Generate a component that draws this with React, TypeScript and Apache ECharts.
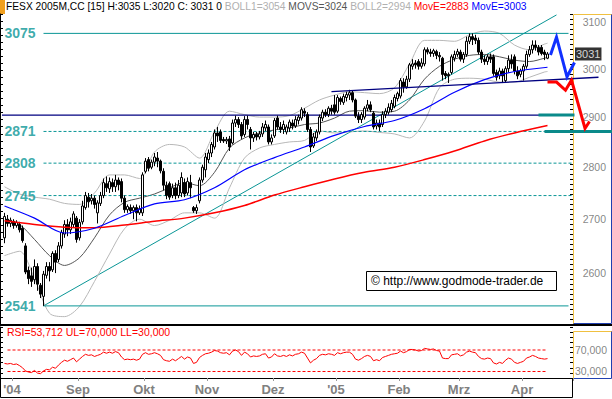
import { useEffect, useRef } from "react";
import * as echarts from "echarts";

// ---------- categories (trading days) ----------
const FIRST_DAY = "2004-07-28";
const HOLIDAYS = ["2004-12-24", "2004-12-31", "2005-03-25", "2005-03-28"];
const SLOT_COUNT = 190;
function tradingDays(first: string, count: number, holidays: string[]) {
  const out: string[] = [];
  const d = new Date(first + "T00:00:00Z");
  while (out.length < count) {
    const wd = d.getUTCDay();
    const s = d.toISOString().slice(0, 10);
    if (wd !== 0 && wd !== 6 && holidays.indexOf(s) < 0) out.push(s);
    d.setUTCDate(d.getUTCDate() + 1);
  }
  return out;
}
const categories = tradingDays(FIRST_DAY, SLOT_COUNT, HOLIDAYS);
const monthLabels: Record<string, string> = {
  "2004-08": "'04", "2004-09": "Sep", "2004-10": "Okt", "2004-11": "Nov", "2004-12": "Dez",
  "2005-01": "'05", "2005-02": "Feb", "2005-03": "Mrz", "2005-04": "Apr",
};

// ---------- OHLC  [open, close, low, high] ----------
const candles: number[][] = [
  [2665, 2705, 2655, 2712], [2700, 2692, 2686, 2708], [2692, 2698, 2685, 2703], [2696, 2688, 2682, 2700],
  [2688, 2694, 2684, 2698], [2690, 2680, 2675, 2695], [2683, 2660, 2656, 2688], [2650, 2602, 2598, 2655],
  [2605, 2590, 2580, 2612], [2595, 2585, 2575, 2610], [2588, 2612, 2580, 2625], [2612, 2580, 2568, 2618],
  [2578, 2562, 2555, 2582], [2558, 2598, 2541, 2604], [2596, 2612, 2590, 2620], [2612, 2604, 2585, 2620],
  [2606, 2636, 2602, 2640], [2636, 2620, 2600, 2642], [2625, 2650, 2620, 2657], [2650, 2675, 2645, 2680],
  [2672, 2690, 2665, 2698], [2690, 2680, 2668, 2700], [2680, 2695, 2672, 2703], [2690, 2710, 2684, 2715],
  [2702, 2662, 2656, 2706], [2665, 2694, 2660, 2700], [2695, 2725, 2690, 2735], [2722, 2745, 2718, 2752],
  [2742, 2733, 2722, 2750], [2735, 2740, 2728, 2748], [2740, 2728, 2720, 2745], [2712, 2731, 2692, 2736],
  [2730, 2745, 2725, 2752], [2745, 2770, 2740, 2778], [2768, 2760, 2752, 2782], [2758, 2772, 2750, 2780],
  [2770, 2762, 2752, 2778], [2762, 2775, 2752, 2785], [2775, 2766, 2755, 2780], [2772, 2740, 2732, 2778],
  [2740, 2718, 2712, 2745], [2718, 2724, 2712, 2728], [2722, 2716, 2710, 2728], [2716, 2722, 2700, 2726],
  [2722, 2712, 2696, 2728], [2712, 2720, 2708, 2726], [2712, 2785, 2706, 2790], [2792, 2812, 2788, 2818],
  [2815, 2798, 2792, 2820], [2800, 2810, 2796, 2815], [2810, 2820, 2802, 2828], [2818, 2812, 2800, 2830],
  [2812, 2793, 2788, 2815], [2792, 2765, 2755, 2798], [2765, 2745, 2738, 2772], [2768, 2742, 2737, 2772],
  [2745, 2760, 2740, 2768], [2760, 2745, 2738, 2770], [2745, 2765, 2740, 2775], [2750, 2780, 2742, 2790],
  [2770, 2748, 2742, 2778], [2750, 2772, 2745, 2780], [2770, 2760, 2740, 2785], [2722, 2716, 2712, 2725],
  [2716, 2722, 2710, 2728], [2735, 2775, 2730, 2780], [2775, 2800, 2770, 2805], [2795, 2820, 2780, 2828],
  [2815, 2828, 2808, 2835], [2828, 2845, 2820, 2850], [2840, 2868, 2835, 2875], [2868, 2862, 2850, 2880],
  [2870, 2853, 2848, 2875], [2855, 2852, 2848, 2860], [2852, 2855, 2846, 2860], [2856, 2840, 2832, 2862],
  [2848, 2888, 2845, 2895], [2888, 2895, 2880, 2903], [2895, 2885, 2878, 2900], [2885, 2862, 2856, 2890],
  [2865, 2895, 2860, 2902], [2895, 2885, 2875, 2903], [2875, 2858, 2835, 2880], [2858, 2865, 2850, 2870],
  [2865, 2860, 2853, 2870], [2860, 2866, 2855, 2872], [2866, 2880, 2860, 2888], [2878, 2885, 2872, 2893],
  [2880, 2850, 2845, 2885], [2850, 2858, 2845, 2865], [2862, 2893, 2858, 2898], [2898, 2880, 2875, 2903],
  [2880, 2875, 2868, 2890], [2875, 2885, 2866, 2893], [2870, 2880, 2865, 2885], [2878, 2890, 2870, 2895],
  [2888, 2882, 2875, 2895], [2882, 2895, 2878, 2902], [2893, 2900, 2885, 2905], [2898, 2915, 2893, 2920],
  [2912, 2908, 2900, 2918], [2905, 2875, 2870, 2910], [2875, 2840, 2830, 2880], [2842, 2860, 2838, 2868],
  [2858, 2870, 2852, 2875], [2870, 2900, 2865, 2905], [2898, 2910, 2892, 2915], [2910, 2905, 2900, 2916],
  [2905, 2918, 2900, 2922], [2918, 2912, 2905, 2925], [2925, 2910, 2905, 2945], [2912, 2940, 2908, 2945],
  [2938, 2932, 2925, 2942], [2930, 2942, 2925, 2948], [2940, 2946, 2932, 2952], [2945, 2950, 2935, 2956],
  [2950, 2935, 2930, 2955], [2935, 2902, 2898, 2938], [2902, 2895, 2888, 2910], [2895, 2905, 2888, 2910],
  [2900, 2918, 2895, 2922], [2918, 2925, 2912, 2935], [2925, 2915, 2910, 2932], [2908, 2880, 2875, 2912],
  [2882, 2888, 2875, 2895], [2888, 2880, 2872, 2895], [2885, 2905, 2880, 2912], [2905, 2912, 2898, 2918],
  [2910, 2920, 2905, 2928], [2915, 2928, 2910, 2935], [2922, 2940, 2918, 2946], [2938, 2948, 2932, 2952],
  [2943, 2975, 2938, 2980], [2972, 2962, 2950, 2980], [2962, 2978, 2958, 2985], [2978, 3008, 2972, 3012],
  [3005, 3010, 2998, 3020], [3012, 3008, 3000, 3018], [3015, 3005, 2998, 3020], [3005, 3012, 3000, 3022],
  [3010, 3040, 3005, 3045], [3040, 3035, 3030, 3045], [3035, 3032, 3025, 3042], [3032, 3038, 3025, 3042],
  [3036, 3028, 3020, 3040], [3028, 3025, 3015, 3035], [3022, 2988, 2975, 3025], [2990, 2985, 2978, 2995],
  [2988, 2985, 2970, 2992], [2992, 3025, 2988, 3030], [3022, 3030, 3015, 3038], [3030, 3036, 3025, 3042],
  [3035, 3020, 3015, 3040], [3020, 3030, 3012, 3035], [3030, 3058, 3025, 3068], [3058, 3068, 3052, 3075],
  [3068, 3062, 3050, 3075], [3065, 3060, 3052, 3072], [3060, 3035, 3030, 3066], [3035, 3020, 3012, 3040],
  [3020, 3015, 3008, 3028], [3015, 3025, 3008, 3030], [3025, 3020, 3012, 3032], [3025, 2990, 2985, 3030],
  [2992, 2982, 2975, 2998], [2985, 2995, 2978, 3002], [2995, 2985, 2970, 3000], [2975, 3000, 2970, 3005],
  [3000, 3018, 2992, 3028], [3018, 3010, 3000, 3030], [3025, 2995, 2988, 3030], [2995, 2985, 2978, 3005],
  [2988, 2995, 2982, 3000], [2995, 3005, 2975, 3010], [3005, 3030, 3000, 3038], [3030, 3040, 3025, 3048],
  [3040, 3050, 3032, 3060], [3050, 3045, 3038, 3060], [3045, 3035, 3028, 3050], [3045, 3032, 3028, 3050],
  [3035, 3030, 3018, 3040], [3022, 3031, 3020, 3035],
];

// ---------- moving averages (sampled) ----------
const maIdx = [0, 10, 20, 30, 40, 50, 60, 70, 80, 90, 100, 110, 120, 130, 140, 150, 160, 170, 181];
const redMovE = [2697, 2690, 2685, 2684, 2689, 2696, 2702, 2712, 2726, 2746, 2762, 2777, 2790, 2800, 2815, 2832, 2852, 2868, 2883];
const blueMovE = [2725, 2702, 2674, 2683, 2707, 2729, 2737, 2760, 2795, 2819, 2840, 2863, 2881, 2893, 2917, 2951, 2977, 2994, 3003];

// ---------- Bollinger (sampled) ----------
const bandIdx = [0, 5, 10, 15, 20, 25, 30, 35, 40, 45, 50, 55, 60, 65, 70, 75, 80, 85, 90, 95, 100, 105, 110, 115, 120, 125, 130, 135, 140, 145, 150, 155, 160, 165, 170, 175, 180, 181];
const boll1 = [2762, 2748, 2742, 2738, 2730, 2728, 2750, 2785, 2785, 2778, 2830, 2845, 2840, 2818, 2870, 2912, 2905, 2900, 2900, 2903, 2918, 2935, 2945, 2952, 2950, 2948, 2960, 3010, 3060, 3060, 3058, 3072, 3080, 3075, 3050, 3040, 3052, 3054];
const movs = [2700, 2690, 2662, 2632, 2614, 2628, 2665, 2708, 2732, 2740, 2748, 2760, 2770, 2764, 2790, 2838, 2858, 2868, 2874, 2878, 2885, 2888, 2898, 2912, 2913, 2910, 2912, 2935, 2978, 3005, 3020, 3028, 3030, 3025, 3018, 3015, 3022, 3024];
const boll2 = [2632, 2640, 2590, 2528, 2522, 2540, 2585, 2635, 2682, 2700, 2688, 2698, 2712, 2712, 2702, 2760, 2818, 2838, 2845, 2850, 2853, 2872, 2868, 2870, 2872, 2869, 2866, 2858, 2892, 2960, 2978, 2980, 2978, 2972, 2972, 2982, 2993, 2994];

// ---------- RSI ----------
const rsi = [
  45, 44, 45, 43, 44, 41, 37, 31, 29, 28, 32, 27, 26, 31, 34, 33, 38, 36, 42, 47,
  51, 49, 52, 55, 48, 53, 58, 62, 60, 61, 58, 60, 62, 66, 64, 66, 64, 67, 65, 57,
  52, 53, 52, 53, 51, 53, 62, 65, 62, 63, 65, 63, 60, 52, 50, 49, 53, 50, 54, 58,
  53, 57, 55, 45, 47, 56, 60, 63, 64, 66, 69, 68, 65, 64, 65, 61, 68, 70, 67, 60,
  66, 63, 57, 59, 58, 59, 62, 63, 55, 57, 63, 59, 58, 60, 58, 61, 59, 62, 63, 66,
  64, 55, 46, 51, 54, 60, 62, 61, 63, 62, 60, 65, 63, 65, 66, 66, 62, 53, 51, 54,
  58, 60, 58, 50, 52, 50, 56, 58, 60, 62, 63, 64, 68, 65, 67, 71, 71, 70, 68, 69,
  73, 72, 71, 72, 69, 68, 55, 54, 54, 61, 62, 63, 59, 61, 66, 68, 66, 65, 58, 54,
  53, 55, 54, 46, 44, 47, 45, 51, 55, 53, 47, 45, 47, 49, 55, 57, 60, 58, 55, 54,
  53, 54,
];
const rsiBands = [70, 30];

// ---------- annotation levels ----------
const levelLabels = [3075, 2871, 2808, 2745, 2541];
const solidLevels = [3075, 2541];
const dashedLevels = [2871, 2808, 2745];
const navyLevel = 2904;
const thickLevels = [2904, 2871];
const upTrend = [[13, 2541], [184, 3115]];
const navyRising = [[109, 2952], [198, 2982]];
const blueProjection = [[182, 3029], [184, 3067], [187.5, 2983], [190, 3013]];
const redProjection = [[181, 2972], [184, 2972], [187, 2955], [189, 2976], [193.5, 2877], [195, 2891]];
const priceTicks = [3100, 3000, 2900, 2800, 2700, 2600];
const lastClose = 3031;
const rsiTicks = [70, 30];

const PMIN = 2509;
const PMAX = 3117;
const RMIN = 17.9;
const RMAX = 112.8;
const FONT = "'Liberation Sans', Arial, sans-serif";
const TEAL = "#0a9696";

function seg(data: any[], color: string, width: number, extra: any = {}, z = 5) {
  return {
    type: "line", xAxisIndex: 4, yAxisIndex: 0, data, symbol: "none", clip: false, silent: true,
    lineStyle: { color, width, ...extra }, z,
  };
}

function buildOption() {
  const isMonthStart = (i: number) =>
    i > 0 && i < categories.length && categories[i].slice(0, 7) !== categories[i - 1].slice(0, 7) &&
    !!monthLabels[categories[i].slice(0, 7)];

  const series: any[] = [];
  // reference series on the value x axis (index 0) used for pixel conversion
  series.push(seg(upTrend, TEAL, 1, {}, 2));
  const bandLine = (vals: number[], color: string) => ({
    type: "line", xAxisIndex: 0, yAxisIndex: 0, symbol: "none", smooth: 0.3, silent: true, z: 2,
    data: bandIdx.map((x, k) => [x, vals[k]]), lineStyle: { color, width: 1 },
  });
  series.push(bandLine(boll1, "#b8b8b8"), bandLine(boll2, "#b8b8b8"), bandLine(movs, "#555555"));
  solidLevels.forEach((v) => series.push(seg([[13, v], [188, v]], TEAL, 1, {}, 2)));
  dashedLevels.forEach((v) => series.push(seg([[13, v], [189, v]], TEAL, 1, { type: [3, 2] }, 2)));
  series.push(seg([[-1, navyLevel], [189.5, navyLevel]], "#000080", 1.3, {}, 2));
  series.push({
    type: "candlestick", xAxisIndex: 0, yAxisIndex: 0, data: candles, barWidth: 2, silent: true, z: 3,
    itemStyle: { color: "#ffffff", color0: "#000000", borderColor: "#000000", borderColor0: "#000000", borderWidth: 1 },
  });
  series.push({
    type: "line", xAxisIndex: 0, yAxisIndex: 0, symbol: "none", smooth: 0.3, silent: true, z: 4,
    data: maIdx.map((x, k) => [x, redMovE[k]]), lineStyle: { color: "#ff0000", width: 1.5 },
  });
  series.push({
    type: "line", xAxisIndex: 0, yAxisIndex: 0, symbol: "none", smooth: 0.3, silent: true, z: 4,
    data: maIdx.map((x, k) => [x, blueMovE[k]]), lineStyle: { color: "#0000ff", width: 1.2 },
  });
  series.push(seg([[178, thickLevels[0]], [190, thickLevels[0]]], "#0a8a8a", 3, {}, 6));
  series.push({
    type: "scatter", xAxisIndex: 0, yAxisIndex: 0, symbolSize: 0, silent: true, z: 8,
    data: levelLabels.map((v) => [0, v]),
    label: {
      show: true, position: "right", distance: 0, formatter: (p: any) => String(p.value[1]),
      color: TEAL, fontWeight: "bold", fontSize: 14, fontFamily: FONT,
    },
  });
  series.push({
    type: "scatter", xAxisIndex: 1, yAxisIndex: 3, symbolSize: 0, silent: true,
    data: priceTicks.map((v) => [1, v]),
    label: { show: true, position: "left", distance: 6, formatter: (p: any) => String(p.value[1]), color: "#666666", fontSize: 10.5, fontFamily: FONT },
  });
  series.push({
    type: "scatter", xAxisIndex: 1, yAxisIndex: 3, symbolSize: 0, silent: true, z: 9,
    data: [[0, lastClose]],
    label: {
      show: true, position: "right", distance: 2, formatter: (p: any) => String(p.value[1]),
      color: "#ffffff", backgroundColor: "#000000", fontSize: 11, fontFamily: FONT, padding: [1, 1, 0, 1], lineHeight: 12,
    },
  });
  series.push({
    type: "line", xAxisIndex: 2, yAxisIndex: 4, symbol: "none", silent: true,
    data: rsi, lineStyle: { color: "#ff0000", width: 1 },
  });
  rsiBands.forEach((v) =>
    series.push({
      type: "line", xAxisIndex: 2, yAxisIndex: 4, symbol: "none", silent: true,
      data: [[1, v], [181, v]], lineStyle: { color: "#ff0000", width: 1, type: [3, 2] },
    })
  );
  series.push({
    type: "scatter", xAxisIndex: 3, yAxisIndex: 7, symbolSize: 0, silent: true,
    data: rsiTicks.map((v) => [1, v]),
    label: { show: true, position: "left", distance: 5, formatter: (p: any) => p.value[1].toFixed(3).replace(".", ","), color: "#666666", fontSize: 10.5, fontFamily: FONT },
  });

  const hiddenCat = (gi: number) => ({ type: "category", gridIndex: gi, data: categories, boundaryGap: true, show: false });
  const auxTicks = (gi: number, max: number, position: string, offset: number, line: boolean) => ({
    type: "value", gridIndex: gi, min: 0, max, interval: 1, position, offset,
    axisLine: { show: line, lineStyle: { color: "#000", width: 1 } },
    axisTick: { show: true, inside: true, length: 3, lineStyle: { color: "#000", width: 1 } },
    axisLabel: { show: false }, splitLine: { show: false },
  });

  return {
    animation: false,
    backgroundColor: "#ffffff",
    title: [
      {
        left: 6, top: 1, padding: 0,
        text: "{k|FESX 2005M,CC [15] H:3035 L:3020 C: 3031 0} {g|BOLL1=3054} {d|MOVS=3024} {g|BOLL2=2994} {r|MovE=2883} {b|MovE=3003}",
        textStyle: {
          fontSize: 10.25, fontFamily: FONT, fontWeight: "normal",
          rich: {
            k: { color: "#000000", fontSize: 10.25, fontFamily: FONT },
            g: { color: "#b0b0b0", fontSize: 10.25, fontFamily: FONT },
            d: { color: "#555555", fontSize: 10.25, fontFamily: FONT },
            r: { color: "#ff0000", fontSize: 10.25, fontFamily: FONT },
            b: { color: "#0000ff", fontSize: 10.25, fontFamily: FONT },
          },
        },
      },
      {
        left: 7, top: 326, padding: 0, text: "RSI=53,712 UL=70,000 LL=30,000",
        textStyle: { color: "#ff0000", fontSize: 10.5, fontFamily: FONT, fontWeight: "normal" },
      },
    ],
    grid: [
      { left: 3, top: 14, width: 570, height: 310 },
      { left: 573, top: 14, width: 39, height: 310 },
      { left: 3, top: 327, width: 570, height: 51 },
      { left: 573, top: 327, width: 39, height: 51 },
    ],
    xAxis: [
      hiddenCat(0),
      { type: "value", gridIndex: 1, min: 0, max: 1, show: false },
      {
        type: "category", gridIndex: 2, data: categories, boundaryGap: true,
        axisLine: { show: true, lineStyle: { color: "#000", width: 1 } },
        axisTick: { show: true, interval: (i: number) => isMonthStart(i), length: 3, lineStyle: { color: "#999" } },
        axisLabel: {
          show: true, interval: (i: number) => isMonthStart(i), margin: 5,
          formatter: (v: string) => monthLabels[v.slice(0, 7)] || "",
          color: "#808080", fontWeight: "bold", fontSize: 13, fontFamily: FONT, padding: [0, 3, 0, 0],
        },
        splitLine: { show: false },
      },
      { type: "value", gridIndex: 3, min: 0, max: 1, show: false },
      { type: "value", gridIndex: 0, min: -0.5, max: 189.5, show: false },
    ],
    yAxis: [
      { type: "log", logBase: 10, gridIndex: 0, min: PMIN, max: PMAX, show: false },
      auxTicks(0, 44, "left", 3, true),
      auxTicks(0, 62, "right", 0, false),
      { type: "log", logBase: 10, gridIndex: 1, min: PMIN, max: PMAX, show: false },
      { type: "value", gridIndex: 2, min: RMIN, max: RMAX, show: false },
      auxTicks(2, 10, "left", 3, true),
      auxTicks(2, 10, "right", 0, false),
      { type: "value", gridIndex: 3, min: RMIN, max: RMAX, show: false },
    ],
    series,
  };
}

function staticGraphics() {
  return [
    { type: "rect", shape: { x: 0, y: 0, width: 5, height: 14 }, style: { fill: "#f0a020" }, silent: true },
    { type: "line", shape: { x1: 0, y1: 325, x2: 612, y2: 325 }, style: { stroke: "#000", lineWidth: 2 }, silent: true },
    { type: "polyline", shape: { points: [[573.5, 324], [573.5, 14.5], [612, 14.5]] }, style: { stroke: "#f0c040", lineWidth: 1, fill: null }, silent: true },
    { type: "polyline", shape: { points: [[573.5, 323.5], [611.5, 323.5], [611.5, 14.5]] }, style: { stroke: "#2040b0", lineWidth: 1, fill: null }, silent: true },
    { type: "polyline", shape: { points: [[573.5, 379], [573.5, 331.5], [612, 331.5]] }, style: { stroke: "#f0c040", lineWidth: 1, fill: null }, silent: true },
    { type: "polyline", shape: { points: [[573.5, 378.5], [611.5, 378.5], [611.5, 331.5]] }, style: { stroke: "#2040b0", lineWidth: 1, fill: null }, silent: true },
    { type: "polyline", shape: { points: [[0.5, 378.5], [0.5, 397.5], [572.5, 397.5], [572.5, 378.5]] }, style: { stroke: "#000", lineWidth: 1, fill: null }, silent: true },
    {
      type: "group", silent: true, z: 100,
      children: [
        { type: "rect", shape: { x: 366.5, y: 271.5, width: 190, height: 19 }, style: { fill: "#fff", stroke: "#000", lineWidth: 1 } },
        { type: "text", x: 371, y: 281, style: { text: "© http://www.godmode-trader.de", fill: "#000", font: "12px " + FONT, verticalAlign: "middle" } },
      ],
    },
  ];
}

export default function App() {
  const ref = useRef<HTMLDivElement>(null);
  useEffect(() => {
    if (!ref.current) return;
    const chart = echarts.init(ref.current, undefined, { renderer: "svg", width: 612, height: 399 });
    chart.setOption(buildOption() as any);
    // annotations that run past the plot area: placed through the chart's own scales
    const toPx = (p: number[]) => chart.convertToPixel({ seriesIndex: 0 }, p) as number[];
    const overlays = [
      { pts: [[180, thickLevels[1]], [203, thickLevels[1]]], color: "#0a8a8a", width: 3 },
      { pts: navyRising, color: "#000080", width: 1.3 },
      { pts: blueProjection, color: "#1030ff", width: 3 },
      { pts: redProjection, color: "#ff0000", width: 3 },
    ];
    const dyn = overlays.map((o) => ({
      type: "polyline", silent: true, z: 90,
      shape: { points: o.pts.map(toPx) },
      style: { stroke: o.color, lineWidth: o.width, fill: null, lineJoin: "miter" },
    }));
    chart.setOption({ graphic: [...staticGraphics(), ...dyn] } as any);
    return () => chart.dispose();
  }, []);
  return <div ref={ref} style={{ position: "fixed", left: 0, top: 0, width: 612, height: 399, background: "#fff" }} />;
}
